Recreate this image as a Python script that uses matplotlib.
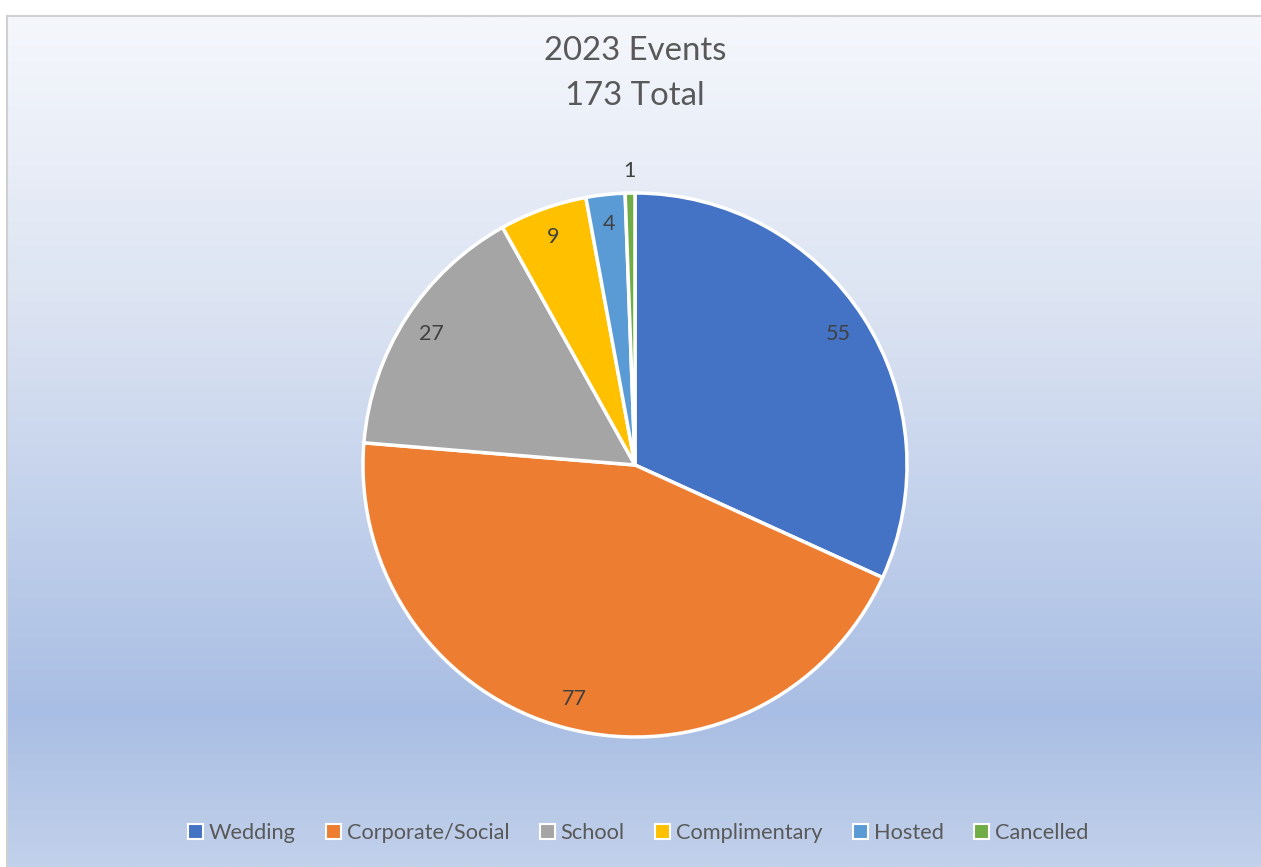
import numpy as np
import matplotlib
matplotlib.use("Agg")
import matplotlib.pyplot as plt
from matplotlib.colors import LinearSegmentedColormap
from matplotlib.patches import Rectangle

categories = ["Wedding", "Corporate/Social", "School", "Complimentary", "Hosted", "Cancelled"]
values = [55, 77, 27, 9, 4, 1]
colors = ["#4472C4", "#ED7D31", "#A5A5A5", "#FFC000", "#5B9BD5", "#70AD47"]
title_lines = ["2023 Events", "173 Total"]

W, H = 1261, 867
fig = plt.figure(figsize=(W / 100, H / 100), dpi=100)
fig.patch.set_facecolor("white")

FONT = ["Lato", "DejaVu Sans"]
TXT = "#595959"

# background gradient panel
x0, y0 = 7 / W, 0.0
bw, bh = 1 - x0, (H - 16) / H
bg = fig.add_axes([x0, y0, bw, bh])
grad = LinearSegmentedColormap.from_list(
    "g", [(0.0, "#f5f7fc"), (0.35, "#dbe3f2"), (0.82, "#a9bee4"), (1.0, "#c2d1eb")])
g = np.linspace(0, 1, 512).reshape(-1, 1)
bg.imshow(g, aspect="auto", cmap=grad, extent=[0, 1, 0, 1], origin="upper")
bg.set_xlim(0, 1); bg.set_ylim(0, 1)
bg.axis("off")
# border (left and top)
fig.add_artist(plt.Line2D([x0, x0], [0, bh], color="#d0d0d0", lw=1.5, transform=fig.transFigure))
fig.add_artist(plt.Line2D([x0, 1], [bh, bh], color="#d0d0d0", lw=1.5, transform=fig.transFigure))

# pie
cx, cy, r = 635, 465, 272
ax = fig.add_axes([(cx - r) / W, (H - cy - r) / H, 2 * r / W, 2 * r / H])
wedges, _ = ax.pie(values, colors=colors, startangle=90, counterclock=False, radius=1.0,
                   wedgeprops=dict(edgecolor="white", linewidth=2.5))
ax.set_xlim(-1, 1); ax.set_ylim(-1, 1)
ax.set_aspect("equal")
ax.axis("off")

total = sum(values)
cum = 0
for v in values:
    mid = 90 - (cum + v / 2) / total * 360
    cum += v
    rr = 1.08 if v / total < 0.01 else 0.89
    ang = np.deg2rad(mid)
    ax.text(rr * np.cos(ang), rr * np.sin(ang), str(v), ha="center", va="center",
            fontsize=15.5, color="#404040", family=FONT)

# title
fig.text(635 / W, 1 - 51 / H, title_lines[0], ha="center", va="center", fontsize=23.7, color=TXT, family=FONT)
fig.text(635 / W, 1 - 96 / H, title_lines[1], ha="center", va="center", fontsize=23.7, color=TXT, family=FONT)

# legend
handles = [Rectangle((0, 0), 1, 1, facecolor=c, edgecolor="white", lw=1.5) for c in colors]
leg = fig.legend(handles, categories, loc="center", bbox_to_anchor=(638 / W, 1 - 833 / H),
                 ncol=6, frameon=False, handlelength=0.7, handleheight=0.7,
                 handletextpad=0.25, columnspacing=1.4, prop=dict(family=FONT, size=15.7))
for t in leg.get_texts():
    t.set_color(TXT)

fig.savefig("out.png", dpi=100, facecolor="white")
